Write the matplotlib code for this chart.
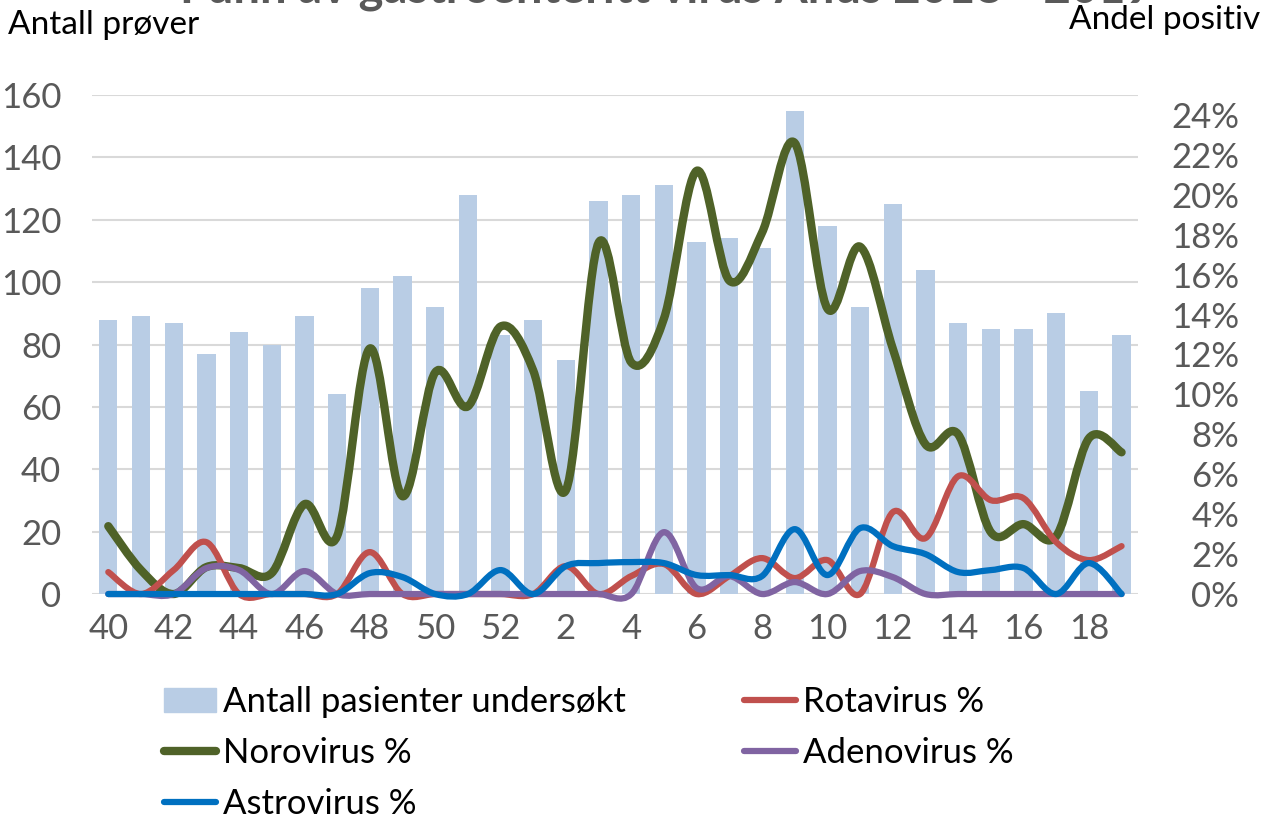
import matplotlib
matplotlib.use("Agg")
import matplotlib.pyplot as plt
from matplotlib.path import Path
from matplotlib.patches import PathPatch
from matplotlib.lines import Line2D

plt.rcParams['font.family'] = ['Lato', 'DejaVu Sans']

# Data
weeks = [40, 41, 42, 43, 44, 45, 46, 47, 48, 49, 50, 51, 52,
         1, 2, 3, 4, 5, 6, 7, 8, 9, 10, 11, 12, 13, 14, 15, 16, 17, 18, 19]
patients = [88, 89, 87, 77, 84, 80, 89, 64, 98, 102, 92, 128, 83,
            88, 75, 126, 128, 131, 113, 114, 111, 155, 118, 92, 125, 104, 87, 85, 85, 90, 65, 83]
rota = [1.1, 0, 1.2, 2.6, 0, 0, 0, 0, 2.1, 0, 0, 0, 0,
        0, 1.4, 0, 0.9, 1.5, 0, 0.9, 1.8, 0.8, 1.7, 0, 4.1, 2.8, 5.9, 4.7, 4.8, 2.6, 1.7, 2.4]
noro = [3.4, 1.2, 0, 1.35, 1.3, 1.05, 4.5, 2.9, 12.3, 4.9, 11.1, 9.4, 13.4,
        11.2, 5.2, 17.6, 11.6, 13.8, 21.2, 15.7, 18.1, 22.6, 14.3, 17.4, 12.3, 7.5, 8.0, 3.1, 3.5, 2.9, 7.8, 7.1]
adeno = [0, 0, 0, 1.3, 1.2, 0, 1.15, 0, 0, 0, 0, 0, 0,
         0, 0, 0, 0, 3.1, 0.3, 0.9, 0, 0.6, 0, 1.15, 0.85, 0, 0, 0, 0, 0, 0, 0]
astro = [0, 0, 0, 0, 0, 0, 0, 0, 1.05, 0.85, 0, 0, 1.2,
         0, 1.4, 1.55, 1.6, 1.55, 0.95, 0.95, 0.9, 3.25, 0.95, 3.3, 2.4, 2.0, 1.1, 1.2, 1.3, 0, 1.55, 0]
pct_ticks = list(range(0, 25, 2))


def smooth_path(xs, ys):
    # Excel style smoothed line: cubic Bezier segments through the points
    verts = [(xs[0], ys[0])]
    codes = [Path.MOVETO]
    n = len(xs)
    for i in range(n - 1):
        x0, y0 = (xs[i - 1], ys[i - 1]) if i > 0 else (xs[i], ys[i])
        x1, y1 = xs[i], ys[i]
        x2, y2 = xs[i + 1], ys[i + 1]
        x3, y3 = (xs[i + 2], ys[i + 2]) if i + 2 < n else (x2, y2)
        c1 = (x1 + (x2 - x0) / 6, y1 + (y2 - y0) / 6)
        c2 = (x2 - (x3 - x1) / 6, y2 - (y3 - y1) / 6)
        verts += [c1, c2, (x2, y2)]
        codes += [Path.CURVE4] * 3
    return Path(verts, codes)


fig = plt.figure(figsize=(12.7, 8.18), dpi=100)
ax = fig.add_axes([0.0724, 0.2738, 0.8236, 0.6101])
ax2 = ax.twinx()

x = list(range(len(weeks)))
bar_color = '#B9CDE5'
ax.bar(x, patients, width=0.56, color=bar_color, zorder=2)
ax.set_ylim(0, 160)
ax.set_xlim(-0.5, len(weeks) - 0.5)
ax.set_yticks(range(0, 161, 20))
ax.yaxis.grid(True, color='#D9D9D9', linewidth=1.5, zorder=0)
ax.set_axisbelow(True)
ax.set_xticks(x[::2])
ax.set_xticklabels([str(w) for w in weeks[::2]])

series = [
    (noro, '#4F6228', 6.0, 'Norovirus %'),
    (rota, '#C0504D', 4.5, 'Rotavirus %'),
    (adeno, '#8064A2', 4.5, 'Adenovirus %'),
    (astro, '#0070C0', 4.5, 'Astrovirus %'),
]
handles = {}
for vals, color, lw, name in series:
    patch = PathPatch(smooth_path(x, vals), facecolor='none', edgecolor=color,
                      linewidth=lw, capstyle='round', joinstyle='round',
                      clip_on=False, zorder=3)
    ax2.add_patch(patch)
    handles[name] = Line2D([], [], color=color, linewidth=lw, solid_capstyle='round')

ax2.set_ylim(0, 25)
ax2.set_yticks(pct_ticks, [f'{v}%' for v in pct_ticks], ha='right')

for a in (ax, ax2):
    for s in a.spines.values():
        s.set_visible(False)
    a.tick_params(length=0, labelsize=25, labelcolor='#595959')
ax.tick_params(axis='y', pad=22)
ax.tick_params(axis='x', pad=14)
ax2.tick_params(axis='y', pad=73)

fig.text(0.006, 0.969, 'Antall prøver', fontsize=24, ha='left', va='center', color='#000000')
fig.text(0.992, 0.975, 'Andel positiv', fontsize=24, ha='right', va='center', color='#000000')
fig.text(0.525, 0.9975, 'Funn av gastroenteritt virus Ahus 2018 - 2019', fontsize=34,
         fontweight='bold', ha='center', va='baseline', color='#595959')

bar_handle = plt.Rectangle((0, 0), 1, 1, color=bar_color)
leg_handles = [bar_handle, handles['Norovirus %'], handles['Astrovirus %'],
               handles['Rotavirus %'], handles['Adenovirus %']]
leg_labels = ['Antall pasienter undersøkt', 'Norovirus %', 'Astrovirus %',
              'Rotavirus %', 'Adenovirus %']
fig.legend(leg_handles, leg_labels, ncol=2, loc='upper left',
           bbox_to_anchor=(0.118, 0.178), frameon=False, fontsize=25,
           handlelength=1.5, handletextpad=0.2, columnspacing=3.4,
           labelspacing=0.55, borderaxespad=0)

fig.savefig('out.png', dpi=100)
